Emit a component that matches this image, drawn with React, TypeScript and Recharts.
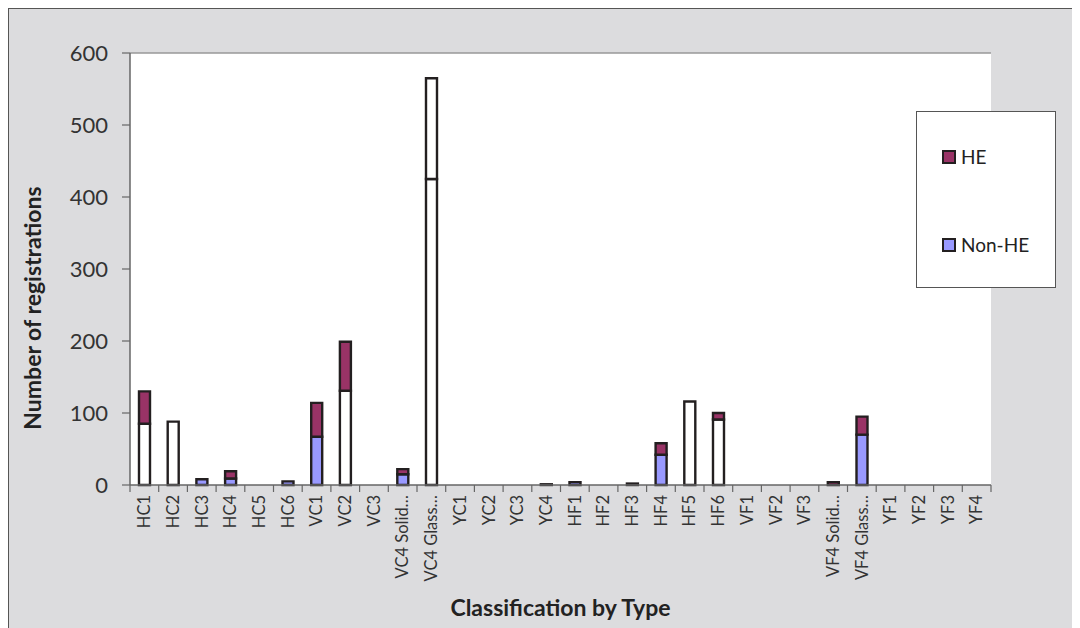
import {
  BarChart,
  Bar,
  Cell,
  XAxis,
  YAxis,
  CartesianGrid,
  Legend,
  ReferenceLine,
  Label,
} from 'recharts';

const categories = [
  'HC1', 'HC2', 'HC3', 'HC4', 'HC5', 'HC6', 'VC1', 'VC2', 'VC3', 'VC4 Solid…',
  'VC4 Glass…', 'YC1', 'YC2', 'YC3', 'YC4', 'HF1', 'HF2', 'HF3', 'HF4', 'HF5',
  'HF6', 'VF1', 'VF2', 'VF3', 'VF4 Solid…', 'VF4 Glass…', 'YF1', 'YF2', 'YF3', 'YF4',
];
const nonHe = [85, 88, 8, 9, 0, 5, 67, 131, 0, 15, 425, 0, 0, 0, 0, 4, 0, 0, 42, 116, 91, 0, 0, 0, 0, 70, 0, 0, 0, 0];
const he = [45, 0, 0, 10, 0, 0, 47, 68, 0, 7, 140, 0, 0, 0, 1, 0, 0, 2, 16, 0, 9, 0, 0, 0, 4, 25, 0, 0, 0, 0];
const yTicks = [0, 100, 200, 300, 400, 500, 600];

// categories whose bars are drawn without fill in the original
const blankNonHe = ['HC1', 'HC2', 'VC2', 'VC4 Glass…', 'HF5', 'HF6'];
const blankHe = ['VC4 Glass…'];

const data = categories.map((name, i) => ({ name, nonHe: nonHe[i], he: he[i] }));

const W = 1072;
const H = 620;
const M = { top: 44, right: 90, left: 0, bottom: 0 };
const Y_W = 121;
const X_H = 144;
const STEP = (W - M.right - Y_W) / categories.length;

const FONT = 'Lato, "Open Sans", sans-serif';
const HE_COLOR = '#993366';
const NON_HE_COLOR = '#9999ff';
const EDGE = '#231f20';

const CategoryTick = (props: any) => {
  const { x, y, payload, index } = props;
  return (
    <g transform={`translate(${x},${y})`}>
      <line x1={-STEP / 2} x2={-STEP / 2} y1={0} y2={7} stroke="#666" strokeWidth={1.2} />
      {index === categories.length - 1 && (
        <line x1={STEP / 2} x2={STEP / 2} y1={0} y2={7} stroke="#666" strokeWidth={1.2} />
      )}
      <text
        transform="rotate(-90)"
        x={-10}
        y={0}
        dy="0.35em"
        textAnchor="end"
        fill="#333"
        fontSize={16.5}
        fontFamily={FONT}
      >
        {payload.value}
      </text>
    </g>
  );
};

const LegendBox = () => (
  <div
    style={{
      width: 138,
      height: 175,
      border: '1px solid #555',
      background: '#fff',
      fontFamily: FONT,
      fontSize: 19,
      color: '#222',
      boxSizing: 'content-box',
      position: 'relative',
    }}
  >
    {[
      { label: 'HE', color: HE_COLOR, top: 33 },
      { label: 'Non-HE', color: NON_HE_COLOR, top: 121 },
    ].map((it) => (
      <div
        key={it.label}
        style={{ position: 'absolute', left: 25, top: it.top, display: 'flex', alignItems: 'center' }}
      >
        <span
          style={{
            display: 'inline-block',
            width: 10,
            height: 10,
            background: it.color,
            border: `2px solid ${EDGE}`,
            marginRight: 5,
          }}
        />
        {it.label}
      </div>
    ))}
  </div>
);

export default function App() {
  return (
    <div
      style={{
        width: W,
        height: H,
        background: '#dcdcde',
        borderLeft: '1.5px solid #555',
        borderTop: '1.5px solid #555',
        boxSizing: 'border-box',
        overflow: 'hidden',
      }}
    >
      <BarChart width={W} height={H} data={data} margin={M} barSize={11}>
        <CartesianGrid fill="#fff" horizontal={false} vertical={false} />
        <XAxis
          dataKey="name"
          height={X_H}
          interval={0}
          tickLine={false}
          tickSize={0}
          tickMargin={0}
          axisLine={{ stroke: '#666', strokeWidth: 1.5 }}
          tick={<CategoryTick />}
        >
          <Label
            value="Classification by Type"
            position="insideBottom"
            offset={13}
            fill="#222"
            fontSize={23}
            fontWeight={700}
            fontFamily={FONT}
          />
        </XAxis>
        <YAxis
          width={Y_W}
          domain={[0, 600]}
          ticks={yTicks}
          interval={0}
          tickSize={8}
          tickMargin={14}
          axisLine={{ stroke: '#666', strokeWidth: 1.5 }}
          tickLine={{ stroke: '#666', strokeWidth: 1.2 }}
          tick={{ fill: '#333', fontSize: 22, fontFamily: FONT }}
        >
          <Label
            content={() => (
              <text
                transform="translate(23,299) rotate(-90)"
                textAnchor="middle"
                dominantBaseline="central"
                fill="#222"
                fontSize={23}
                fontWeight={700}
                fontFamily={FONT}
              >
                Number of registrations
              </text>
            )}
          />
        </YAxis>
        <YAxis
          yAxisId="frame"
          orientation="right"
          width={0}
          domain={[0, 600]}
          tick={false}
          tickLine={false}
          axisLine={{ stroke: '#999', strokeWidth: 1.5 }}
        />
        <ReferenceLine y={600} stroke="#999" strokeWidth={1.5} />
        <Legend
          layout="horizontal"
          verticalAlign="middle"
          align="center"
          wrapperStyle={{ top: 102, left: 907, width: 140, height: 177 }}
          content={() => <LegendBox />}
        />
        <Bar dataKey="nonHe" name="Non-HE" stackId="a" fill={NON_HE_COLOR} stroke={EDGE} strokeWidth={2.4} isAnimationActive={false}>
          {data.map((d) => (
            <Cell key={d.name} fill={blankNonHe.includes(d.name) ? '#fff' : NON_HE_COLOR} />
          ))}
        </Bar>
        <Bar dataKey="he" name="HE" stackId="a" fill={HE_COLOR} stroke={EDGE} strokeWidth={2.4} isAnimationActive={false}>
          {data.map((d) => (
            <Cell key={d.name} fill={blankHe.includes(d.name) ? '#fff' : HE_COLOR} />
          ))}
        </Bar>
      </BarChart>
    </div>
  );
}
